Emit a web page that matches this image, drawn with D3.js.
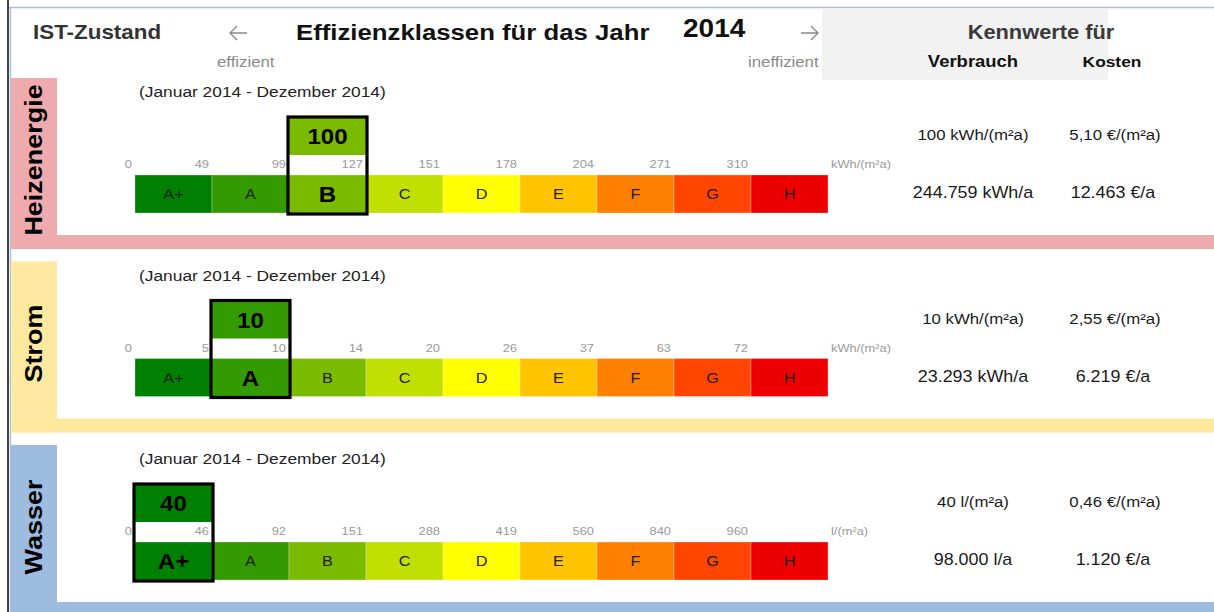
<!DOCTYPE html>
<html>
<head>
<meta charset="utf-8">
<script src="https://cdn.jsdelivr.net/npm/d3@7"></script>
<style>
  body { margin: 0; background: #fff; }
  svg { display: block; font-family: "Liberation Sans", Arial, sans-serif; }
</style>
</head>
<body>
<div id="chart"></div>
<script>
// Daten
const year = '2014';
const period = '(Januar 2014 - Dezember 2014)';
const classes = ['A+', 'A', 'B', 'C', 'D', 'E', 'F', 'G', 'H'];
const classColors = ['#008000', '#339a00', '#7abb00', '#bfe000', '#ffff00', '#ffc400', '#ff8000', '#ff4500', '#ee0000'];
const rowNames = ['Heizenergie', 'Strom', 'Wasser'];
const rowColors = ['#eeaaad', '#ffe9a0', '#9dbcdf'];
const heizTicks = [0, 49, 99, 127, 151, 178, 204, 271, 310];
const stromTicks = [0, 5, 10, 14, 20, 26, 37, 63, 72];
const wasserTicks = [0, 46, 92, 151, 288, 419, 560, 840, 960];
const units = ['kWh/(m²a)', 'kWh/(m²a)', 'l/(m²a)'];
const values = [100, 10, 40];
const verbrauchSpez = ['100 kWh/(m²a)', '10 kWh/(m²a)', '40 l/(m²a)'];
const kostenSpez = ['5,10 €/(m²a)', '2,55 €/(m²a)', '0,46 €/(m²a)'];
const verbrauchAbs = ['244.759 kWh/a', '23.293 kWh/a', '98.000 l/a'];
const kostenAbs = ['12.463 €/a', '6.219 €/a', '1.120 €/a'];

const allTicks = [heizTicks, stromTicks, wasserTicks];

const W = 1214, H = 612;
const SX = 1.12; // Schrift etwas breiter wie im Original

const svg = d3.select('#chart').append('svg')
    .attr('width', W).attr('height', H);

svg.append('rect').attr('width', W).attr('height', H).attr('fill', '#fff');

function label(sel, x, y, s, o) {
    o = o || {};
    return sel.append('text')
        .attr('transform', `translate(${x},${y}) scale(${o.sx || SX},1)`)
        .attr('text-anchor', o.anchor || 'start')
        .attr('font-size', o.size || 14)
        .attr('font-weight', o.bold ? 'bold' : 'normal')
        .attr('fill', o.color || '#222')
        .text(s);
}

// Skalen
const x = d3.scaleBand().domain(classes).range([135, 828]).padding(0);
const color = d3.scaleOrdinal().domain(classes).range(classColors);
const rowTop = d3.scaleLinear().domain([0, 1]).range([78, 261.5]);

// Rahmen oben / links
svg.append('line').attr('x1', 9).attr('x2', W).attr('y1', 7.5).attr('y2', 7.5)
    .attr('stroke', '#a9bfdc').attr('stroke-width', 1.5);
svg.append('line').attr('x1', 10.5).attr('x2', 10.5).attr('y1', 7).attr('y2', H)
    .attr('stroke', '#a9bfdc').attr('stroke-width', 1.5);
svg.append('line').attr('x1', 8).attr('x2', 8).attr('y1', 0).attr('y2', H)
    .attr('stroke', '#000').attr('stroke-width', 1.5);

// Kopfzeile
svg.append('rect').attr('x', 822).attr('y', 8).attr('width', 286).attr('height', 72).attr('fill', '#f2f2f2');
label(svg, 33, 39, 'IST-Zustand', { size: 20, bold: true, color: '#333' });
label(svg, 296, 40, 'Effizienzklassen für das Jahr', { size: 23, bold: true, color: '#111' });
label(svg, 683, 37, year, { size: 25, bold: true, color: '#111' });
label(svg, 217, 67, 'effizient', { size: 15, color: '#8a8a8a' });
label(svg, 748, 67, 'ineffizient', { size: 15, color: '#8a8a8a' });
label(svg, 1041, 39, 'Kennwerte für', { size: 19.5, bold: true, color: '#3a3a3a', anchor: 'middle' });
label(svg, 973, 67, 'Verbrauch', { size: 16.5, bold: true, color: '#111', anchor: 'middle' });
label(svg, 1112, 67, 'Kosten', { size: 15.5, bold: true, color: '#111', anchor: 'middle' });

// Pfeile
const arrow = d3.line();
[[247, 230], [801, 818]].forEach(function(a) {
    const x0 = a[0], x1 = a[1], dir = x1 > x0 ? -1 : 1;
    svg.append('path')
        .attr('d', arrow([[x0, 33], [x1, 33]]) + arrow([[x1 + dir * 7, 26], [x1, 33], [x1 + dir * 7, 40]]))
        .attr('fill', 'none').attr('stroke', '#8a8a8a').attr('stroke-width', 1.4);
});

// Zeilen
rowNames.forEach(function(name, i) {
    const top = rowTop(i);
    const ticks = allTicks[i];
    const g = svg.append('g');

    // Seitenleiste + untere Linie
    g.append('rect').attr('x', 11).attr('y', top).attr('width', 46).attr('height', 171).attr('fill', rowColors[i]);
    g.append('rect').attr('x', 11).attr('y', top + 157).attr('width', W - 11).attr('height', 14).attr('fill', rowColors[i]);

    g.append('text')
        .attr('transform', `translate(42,${top + 82}) rotate(-90) scale(1.1,1)`)
        .attr('text-anchor', 'middle')
        .attr('font-size', 24.5).attr('font-weight', 'bold').attr('fill', '#000')
        .text(name);

    label(g, 139, top + 19, period, { size: 15.5, color: '#222' });

    // Klasse des Wertes: erste Klasse mit Wert <= oberer Grenze
    let ci = classes.findIndex(function(c, k) { return k + 1 >= ticks.length || values[i] <= ticks[k + 1]; });
    const hc = classes[ci];

    const barY = top + 97, barH = 38;

    // Markierung oben (Wert)
    g.append('rect')
        .attr('x', x(hc)).attr('y', top + 39)
        .attr('width', x.bandwidth()).attr('height', 38)
        .attr('fill', color(hc));

    // Balken
    g.selectAll('.seg').data(classes).enter().append('rect')
        .attr('class', 'seg')
        .attr('x', function(d) { return x(d); })
        .attr('y', barY)
        .attr('width', x.bandwidth())
        .attr('height', barH)
        .attr('fill', function(d) { return color(d); })
        .attr('stroke', 'rgba(255,255,255,0.35)').attr('stroke-width', 0.8);

    g.selectAll('.cls').data(classes).enter().append('text')
        .attr('class', 'cls')
        .attr('transform', function(d) {
            return `translate(${x(d) + x.bandwidth() / 2},${barY + barH / 2 + (d === hc ? 8 : 5)}) scale(${SX},1)`;
        })
        .attr('text-anchor', 'middle')
        .attr('font-size', function(d) { return d === hc ? 21.5 : 14.5; })
        .attr('font-weight', function(d) { return d === hc ? 'bold' : 'normal'; })
        .attr('fill', function(d) { return d === hc ? '#000' : '#222'; })
        .text(function(d) { return d; });

    // Grenzwerte
    g.selectAll('.tk').data(ticks).enter().append('text')
        .attr('class', 'tk')
        .attr('transform', function(d, k) { return `translate(${x(classes[k]) - 3},${top + 90}) scale(${SX},1)`; })
        .attr('text-anchor', 'end')
        .attr('font-size', 11.5)
        .attr('fill', '#9a9a9a')
        .text(function(d) { return d; });
    label(g, x.range()[1] + 3, top + 90, units[i], { size: 11.5, color: '#9a9a9a' });

    // Wert + Rahmen
    label(g, x(hc) + x.bandwidth() / 2, top + 66, values[i], { size: 21.5, bold: true, color: '#000', anchor: 'middle' });
    g.append('rect')
        .attr('x', x(hc) - 1).attr('y', top + 39)
        .attr('width', x.bandwidth() + 2).attr('height', barY + barH + 1 - (top + 39))
        .attr('fill', 'none').attr('stroke', '#000').attr('stroke-width', 3.2);

    // Kennwerte
    label(g, 973, top + 62, verbrauchSpez[i], { size: 15, color: '#1a1a1a', anchor: 'middle' });
    label(g, 1115, top + 62, kostenSpez[i], { size: 15, color: '#1a1a1a', anchor: 'middle' });
    label(g, 973, top + 120, verbrauchAbs[i], { size: 16, color: '#1a1a1a', anchor: 'middle' });
    label(g, 1113, top + 120, kostenAbs[i], { size: 16, color: '#1a1a1a', anchor: 'middle' });
});
</script>
</body>
</html>
